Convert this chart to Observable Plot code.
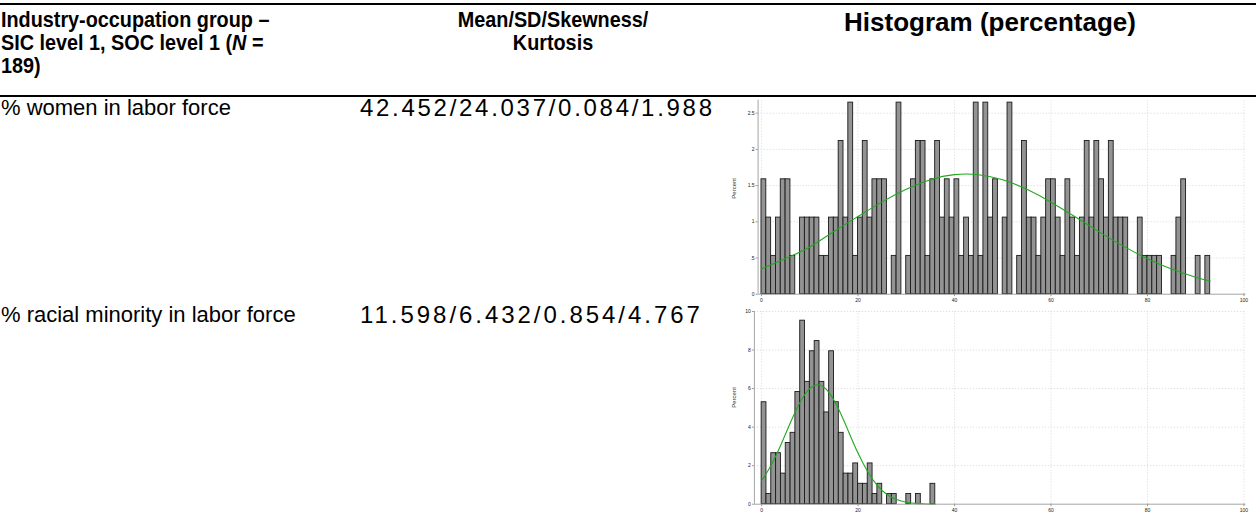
<!DOCTYPE html>
<html><head><meta charset="utf-8">
<script src="https://cdn.jsdelivr.net/npm/d3@7"></script>
<script src="https://cdn.jsdelivr.net/npm/@observablehq/plot@0.6"></script>
<style>
html,body{margin:0;padding:0;background:#fff}
body{width:1256px;height:514px;overflow:hidden;position:relative;font-family:"Liberation Sans",Arial,sans-serif;color:#000}
.abs{position:absolute;white-space:nowrap;line-height:1}
.hdr{font-weight:bold;font-size:22px;transform-origin:0 0}
.hdr2{font-weight:bold;font-size:26px}
.body{font-size:22px}
.num{font-size:24px}
.rule{position:absolute;left:0;width:1256px;background:#000}
.plot{position:absolute}
</style></head><body>
<div id="root"></div>
<script>
// ---------- table text ----------
const headerCol1 = ["Industry-occupation group –", "SIC level 1, SOC level 1 (<i>N</i> =", "189)"];
const headerCol2 = ["Mean/SD/Skewness/", "Kurtosis"];
const headerCol3 = ["Histogram (percentage)"];
const rowLabels = ["% women in labor force", "% racial minority in labor force"];
const rowStats = ["42.452/24.037/0.084/1.988", "11.598/6.432/0.854/4.767"];

// ---------- histogram data (percent per 1-unit bin, bin index = lower edge) ----------
const womenPct = [1.587,1.058,0.529,1.058,1.587,1.587,0.529,0,1.058,1.058,
  1.058,1.058,0.529,0.529,1.058,1.058,2.116,1.058,2.646,0.529,
  1.058,2.116,1.058,1.587,1.587,1.587,0,0.529,2.646,0,
  0.529,1.587,2.116,2.116,0.529,1.587,2.116,1.058,1.587,1.058,
  1.587,0.529,1.058,0.529,2.646,0.529,2.646,1.058,1.587,0,
  1.058,2.646,0,0.529,2.116,1.058,1.058,0.529,1.058,1.587,
  1.587,1.058,0.529,1.587,1.058,0.529,1.058,2.116,1.058,2.116,
  1.587,1.058,2.116,1.058,1.058,1.058,0,0,1.058,0.529,
  0.529,0.529,0.529,0,0,0.529,1.058,1.587,0,0,0.529,0,0.529];
const minorityPct = [5.291,0.529,2.646,2.646,1.587,3.175,3.704,5.820,9.524,6.349,
  7.937,8.466,6.349,4.762,7.937,5.291,3.704,1.587,1.587,2.116,
  1.058,1.058,2.116,0.529,1.058,0,0.529,0.529,0,0,
  0.529,0,0.529,0,0,1.058];

// normal-density overlay
const womenCurveX = [0,5,10,15,20,25,30,35,40,45,50,55,60,65,70,75,80,85,90,93];
const womenCurveY = [0.349,0.493,0.653,0.865,1.073,1.275,1.451,1.582,1.651,1.650,1.580,1.448,1.271,1.069,0.861,0.664,0.490,0.347,0.235,0.182];
const minorityCurveX = [0,2,4,6,8,10,12,14,16,18,20,22,24,26,28,30,32,34,36];
const minorityCurveY = [1.22,2.04,3.09,4.25,5.30,6.01,6.19,5.79,4.91,3.78,2.64,1.68,0.966,0.505,0.240,0.103,0.041,0.014,0.005];

const xTicks = [0,20,40,60,80,100];
const womenYTicks = [0,0.5,1,1.5,2,2.5];
const minorityYTicks = [0,2,4,6,8,10];

// ---------- layout ----------
const root = document.getElementById("root");
function add(html, cls, style){const d=document.createElement("div");d.className="abs "+cls;d.innerHTML=html;Object.assign(d.style,style);root.appendChild(d);return d;}
function rule(top,h){const d=document.createElement("div");d.className="rule";d.style.top=top+"px";d.style.height=h+"px";root.appendChild(d);}
rule(3,2);
rule(95,2);
headerCol1.forEach((t,i)=>add(t,"hdr",{left:"1px",top:(9+i*23)+"px",transform:"scaleX(0.9)"}));
headerCol2.forEach((t,i)=>add(t,"hdr",{left:"553px",top:(9+i*23)+"px",transform:"scaleX(0.9) translateX(-50%)"}));
headerCol3.forEach((t,i)=>add(t,"hdr2",{left:"990px",top:(9+i*23)+"px",transform:"translateX(-50%)"}));
rowLabels.forEach((t,i)=>add(t,"body",{left:"1px",top:[97,304][i]+"px"}));
// stats cell: characters spread across the cell width (360 → ~710)
rowStats.forEach((t,i)=>{
  const d = add(t,"num",{left:"360px",top:[96,303][i]+"px"});
  const w = d.getBoundingClientRect().width;
  const target = [352,340][i];
  d.style.letterSpacing = Math.max(0,(target - w)/(t.length-1)).toFixed(2)+"px";
});

const fmt = d => d===0 ? "0" : String(d).replace(/^0\./,".");
function hist(values, curveX, curveY, yTicks, yTop, regionTop, xStart, box){
  const bars = values.map((v,i)=>({x1:i,x2:i+1,y:v})).filter(d=>d.y>0);
  const curve = curveX.map((x,i)=>({x, y:curveY[i]}));
  const gridCol = "#d6d6d6", axisCol = "#9a9a9a";
  const p = Plot.plot({
    width: box.width, height: box.height,
    marginLeft: box.ml, marginRight: box.mr, marginTop: box.mt, marginBottom: box.mb,
    x: {domain:[xStart,100.4], axis:null},
    y: {domain:[0,yTop], axis:null},
    style: {fontFamily:"'Liberation Sans',Arial,sans-serif", fontSize:"5px", background:"transparent", overflow:"visible", color:"#222"},
    marks: [
      Plot.ruleY(yTicks.filter(t=>t>0), {x1:xStart, x2:100.4, stroke:gridCol, strokeDasharray:"1.2,1.8", strokeWidth:0.8}),
      Plot.ruleX(xTicks, {y1:0, y2:regionTop, stroke:gridCol, strokeDasharray:"1.2,1.8", strokeWidth:0.8}),
      Plot.rectY(bars, {x1:"x1", x2:"x2", y:"y", fill:"#939393", stroke:"#1a1a1a", strokeWidth:0.9}),
      Plot.line(curve, {x:"x", y:"y", stroke:"#1faa1f", strokeWidth:1.1, curve:"natural"}),
      Plot.ruleY([0], {x1:xStart, x2:100.4, stroke:axisCol, strokeWidth:0.9}),
      Plot.ruleX([xStart], {y1:0, y2:regionTop, stroke:axisCol, strokeWidth:0.9}),
      Plot.axisX(xTicks, {tickSize:2.5, tickPadding:1.5, tickFormat:fmt, stroke:axisCol, fill:"#222", label:null}),
      Plot.axisY(yTicks, {tickSize:2, tickPadding:1.5, tickFormat:fmt, stroke:axisCol, fill:"#222", label:null}),
      Plot.text(["Percent"], {frameAnchor:"left", rotate:-90, dx:box.ldx, dy:box.ldy, fontSize:6, fill:"#333"})
    ]
  });
  p.classList.add("plot");
  p.style.left = box.left+"px"; p.style.top = box.top+"px";
  root.appendChild(p);
}
// women: x(0)=760.8, x(100)=1243 ; y(0)=293.7, y(2.5)=112.7
hist(womenPct, womenCurveX, womenCurveY, womenYTicks, 2.5, 2.68, -0.7,
  {left:700, top:98, width:556, height:210, ml:57.6, mr:10.6, mt:14.7, mb:14.3, ldx:-24, ldy:-5});
// minority: y(0)=503.7, y(10)=311
hist(minorityPct, minorityCurveX, minorityCurveY, minorityYTicks, 10, 10, -1.5,
  {left:700, top:300, width:556, height:214, ml:53.9, mr:10.6, mt:11, mb:10.3, ldx:-20, ldy:0});
</script>
</body></html>
